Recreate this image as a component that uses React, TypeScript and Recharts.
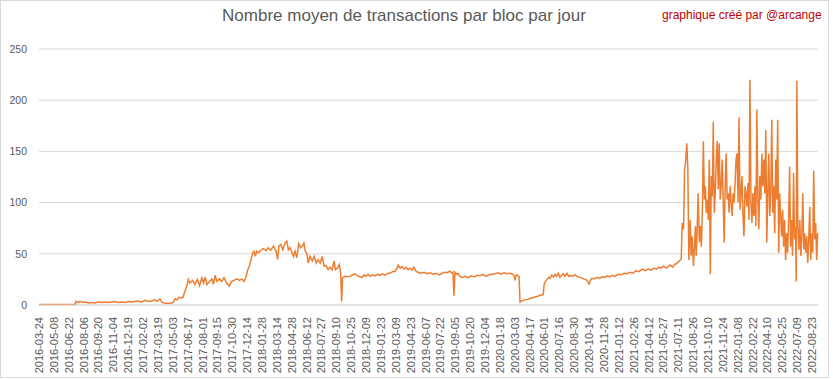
import React from 'react';
import { LineChart, Line, XAxis, YAxis, CartesianGrid } from 'recharts';

// category labels shown on the axis (one every 45 categories)
const tickLabels = [
  '2016-03-24', '2016-05-08', '2016-06-22', '2016-08-06', '2016-09-20', '2016-11-04', '2016-12-19',
  '2017-02-02', '2017-03-19', '2017-05-03', '2017-06-17', '2017-08-01', '2017-09-15', '2017-10-30',
  '2017-12-14', '2018-01-28', '2018-03-14', '2018-04-28', '2018-06-12', '2018-07-27', '2018-09-10',
  '2018-10-25', '2018-12-09', '2019-01-23', '2019-03-09', '2019-04-23', '2019-06-07', '2019-07-22',
  '2019-09-05', '2019-10-20', '2019-12-04', '2020-01-18', '2020-03-03', '2020-04-17', '2020-06-01',
  '2020-07-16', '2020-08-30', '2020-10-14', '2020-11-28', '2021-01-12', '2021-02-26', '2021-04-12',
  '2021-05-27', '2021-07-11', '2021-08-26', '2021-10-10', '2021-11-24', '2022-01-08', '2022-02-22',
  '2022-04-10', '2022-05-25', '2022-07-09', '2022-08-23',
];
const TICK_EVERY = 45;
const LAST_INDEX = 2358;
const yTicks = [0, 50, 100, 150, 200, 250];

// [day index, avg tx per block]
// 2016 -> mid 2017
const earlyPhase: [number, number][] = [
  [0, 0.5], [60, 0.5], [109, 0.5], [112, 3.5], [118, 2.5], [124, 3.5], [132, 2.5], [140, 3],
  [150, 2], [160, 2.5], [170, 2], [180, 3], [190, 2.5], [200, 3], [210, 2.5], [220, 3],
  [230, 3.5], [240, 2.5], [250, 3], [260, 2.5], [270, 3.5], [280, 3], [290, 3.5], [300, 4],
  [310, 3], [320, 4.5], [330, 3.5], [340, 4], [350, 5], [358, 3.5], [366, 6], [372, 2.5],
  [380, 2], [390, 1.5], [400, 2], [406, 2.5], [412, 6], [418, 5], [423, 7.5], [429, 7],
];

// mid 2017 -> late 2018
const boomPhase: [number, number][] = [
  [435, 7], [442, 13.5], [447, 18], [452, 25], [457, 21.5], [465, 24], [472, 20], [479, 25],
  [486, 19], [493, 26.5], [498, 21.5], [503, 27.5], [508, 20], [516, 23], [523, 25.5], [528, 20.5],
  [533, 29], [538, 23], [546, 25.5], [553, 23], [560, 26.5], [568, 21.5], [576, 18.5], [583, 23],
  [590, 24], [599, 25.5], [607, 24], [614, 25.5], [621, 23], [627, 28], [632, 34.5], [637, 38],
  [642, 44.5], [647, 51], [651, 52.5], [655, 47.5], [659, 52.5], [665, 51], [671, 53.5], [679, 55],
  [687, 53], [694, 56], [701, 53.5], [710, 57.5], [718, 52.5], [722, 44.5], [726, 57.5], [732, 59],
  [738, 54], [745, 60.5], [750, 62.5], [755, 54], [760, 56], [766, 51], [770, 47.5], [775, 52.5],
  [780, 46], [786, 60], [792, 56], [798, 58], [802, 60.5], [806, 52.5], [810, 51], [815, 41],
  [820, 47.5], [827, 43], [833, 47.5], [839, 41], [845, 44.5], [851, 41], [857, 47.5], [863, 38],
  [869, 38.5], [875, 34.5], [881, 37], [887, 34.5], [893, 43], [897, 34.5], [903, 36], [909, 39.5],
  [913, 31], [916, 3.5], [919, 26.5], [926, 28], [937, 27.5], [947, 29], [957, 30.5], [967, 28],
];

// late 2018 -> mid 2021
const flatPhase: [number, number][] = [
  [978, 27], [984, 29.5], [990, 28], [996, 30], [1002, 28], [1010, 29.5], [1017, 28.5], [1025, 30],
  [1032, 29], [1040, 30.5], [1048, 29], [1056, 31], [1063, 31], [1070, 32.5], [1078, 33], [1084, 36],
  [1087, 39], [1093, 36], [1099, 37.5], [1105, 35], [1111, 37], [1117, 34.5], [1123, 36], [1129, 34],
  [1135, 37], [1141, 33], [1147, 32], [1155, 31], [1166, 32], [1175, 30.5], [1184, 31.5], [1193, 30],
  [1202, 31], [1211, 29.5], [1220, 31], [1228, 32], [1235, 31.5], [1244, 33], [1250, 31], [1253, 32],
  [1256, 9], [1259, 32], [1264, 30], [1268, 31], [1274, 28], [1281, 27], [1290, 28], [1299, 26.5],
  [1308, 28.5], [1317, 27.5], [1326, 29], [1335, 28.5], [1344, 30], [1353, 28], [1362, 29.5], [1371, 30],
  [1380, 30.5], [1390, 31.5], [1399, 30], [1408, 31.5], [1417, 30.5], [1426, 31], [1434, 30], [1438, 29],
  [1441, 24], [1444, 29], [1447, 29.5], [1453, 28], [1456, 3], [1462, 4], [1471, 5], [1479, 5.5],
  [1487, 6.5], [1495, 7], [1502, 8], [1510, 8.5], [1517, 9.5], [1526, 10], [1529, 20], [1533, 23],
  [1538, 25], [1543, 27], [1547, 26], [1552, 29], [1557, 27.5], [1562, 30], [1567, 28], [1572, 31],
  [1577, 27], [1582, 29], [1587, 30.5], [1592, 28], [1598, 31], [1603, 28], [1608, 29], [1615, 28],
  [1623, 29.5], [1630, 27.5], [1638, 27], [1645, 26], [1653, 25], [1659, 24], [1665, 20.5], [1669, 24],
  [1674, 26], [1680, 25.5], [1689, 27], [1697, 26], [1705, 27.5], [1712, 27], [1720, 28.5], [1728, 27.5],
  [1735, 29], [1743, 28], [1753, 30], [1762, 29.5], [1771, 31], [1780, 30.5], [1789, 32], [1798, 31],
  [1807, 33.5], [1816, 32.5], [1826, 35], [1835, 33.5], [1844, 35], [1853, 34], [1862, 36], [1870, 35],
  [1876, 37],
];

// mid 2021 -> 2022
const surgePhase: [number, number][] = [
  [1882, 36], [1890, 38], [1900, 36], [1910, 39], [1918, 37], [1925, 40], [1929, 40], [1935, 42],
  [1941, 44], [1944, 45], [1947, 80], [1951, 74], [1954, 132], [1957, 139], [1961, 158], [1964, 132],
  [1967, 44], [1971, 83], [1974, 48], [1977, 67], [1981, 38], [1984, 57], [1987, 77], [1989, 48],
  [1992, 70], [1995, 109], [1999, 61], [2002, 77], [2005, 57], [2008, 93], [2011, 160], [2014, 103],
  [2017, 116], [2020, 90], [2023, 103], [2026, 83], [2029, 142], [2032, 30], [2035, 126], [2038, 106],
  [2041, 179], [2044, 90], [2047, 109], [2050, 142], [2053, 160], [2056, 113], [2059, 158], [2062, 103],
  [2065, 116], [2068, 142], [2071, 103], [2074, 61], [2077, 116], [2080, 148], [2083, 103], [2086, 109],
  [2089, 90], [2092, 116], [2095, 100], [2098, 87], [2101, 109], [2104, 100], [2107, 119], [2110, 142],
  [2113, 148], [2116, 100], [2119, 183], [2122, 93], [2125, 109], [2128, 126], [2131, 87], [2134, 67],
  [2137, 116], [2140, 109], [2143, 96], [2146, 119], [2149, 83], [2152, 220], [2155, 100], [2158, 80],
  [2161, 109], [2164, 87], [2167, 116], [2170, 77], [2173, 191], [2176, 103], [2179, 74], [2182, 126],
  [2185, 103], [2188, 148], [2191, 116], [2194, 142], [2197, 109], [2200, 171], [2203, 61], [2206, 109],
  [2209, 148], [2212, 87], [2215, 109], [2218, 181], [2221, 90], [2224, 116], [2227, 70], [2230, 142],
  [2233, 103], [2236, 181], [2239, 51], [2242, 109], [2245, 87], [2248, 67], [2251, 93], [2254, 57],
  [2257, 83], [2260, 44], [2263, 70], [2266, 51], [2269, 83], [2272, 135], [2275, 57], [2278, 83],
  [2281, 48], [2284, 129], [2287, 64], [2290, 77], [2292, 23], [2294, 219], [2297, 77], [2300, 54],
  [2303, 83], [2306, 48], [2309, 67], [2312, 109], [2315, 54], [2318, 70], [2321, 51], [2324, 67],
  [2327, 41], [2330, 64], [2333, 96], [2336, 44], [2339, 70], [2342, 51], [2345, 131], [2348, 64],
  [2351, 80], [2354, 44], [2357, 70],
];

const data = [...earlyPhase, ...boomPhase, ...flatPhase, ...surgePhase].map(([i, v]) => ({ i, v }));

const TEXT = '#595959';
const FONT = '"Liberation Sans", Arial, sans-serif';

const DateTick = (props: any) => {
  const { x, y, payload } = props;
  const label = tickLabels[Math.round(payload.value / TICK_EVERY)];
  return (
    <text
      x={x}
      y={y + 4}
      transform={`rotate(-90, ${x}, ${y + 4})`}
      textAnchor="end"
      dominantBaseline="central"
      fill={TEXT}
      fontSize={11}
      fontFamily={FONT}
    >
      {label}
    </text>
  );
};

export default function App() {
  return (
    <div style={{ position: 'absolute', left: 0, top: 0, width: 833, height: 379, background: '#fff' }}>
      <div
        style={{
          position: 'absolute', left: 0, top: 0, width: 827, height: 376,
          border: '1px solid #D9D9D9',
        }}
      />
      <LineChart
        width={833}
        height={379}
        data={data}
        margin={{ top: 49, right: 15, bottom: 0, left: 0 }}
      >
        <CartesianGrid vertical={false} stroke="#D9D9D9" />
        <XAxis
          dataKey="i"
          type="number"
          domain={[0, LAST_INDEX]}
          ticks={tickLabels.map((_, k) => k * TICK_EVERY)}
          interval={0}
          height={74}
          tick={<DateTick />}
          tickLine={false}
          axisLine={{ stroke: '#D9D9D9' }}
        />
        <YAxis
          width={39}
          domain={[0, 250]}
          ticks={yTicks}
          axisLine={false}
          tickLine={false}
          tickSize={0}
          tickMargin={12}
          tick={{ fill: TEXT, fontSize: 10.5, fontFamily: FONT }}
        />
        <Line
          type="linear"
          dataKey="v"
          stroke="#ED7D31"
          strokeWidth={1.5}
          dot={false}
          isAnimationActive={false}
        />
      </LineChart>
      <svg width={833} height={40} style={{ position: 'absolute', left: 0, top: 0 }}>
        <text x={404} y={21} textAnchor="middle" fill={TEXT} fontSize={17} fontFamily={FONT}>
          Nombre moyen de transactions par bloc par jour
        </text>
        <text x={662} y={18.5} fill="#C00000" fontSize={12} fontFamily={FONT}>
          graphique créé par @arcange
        </text>
      </svg>
    </div>
  );
}
